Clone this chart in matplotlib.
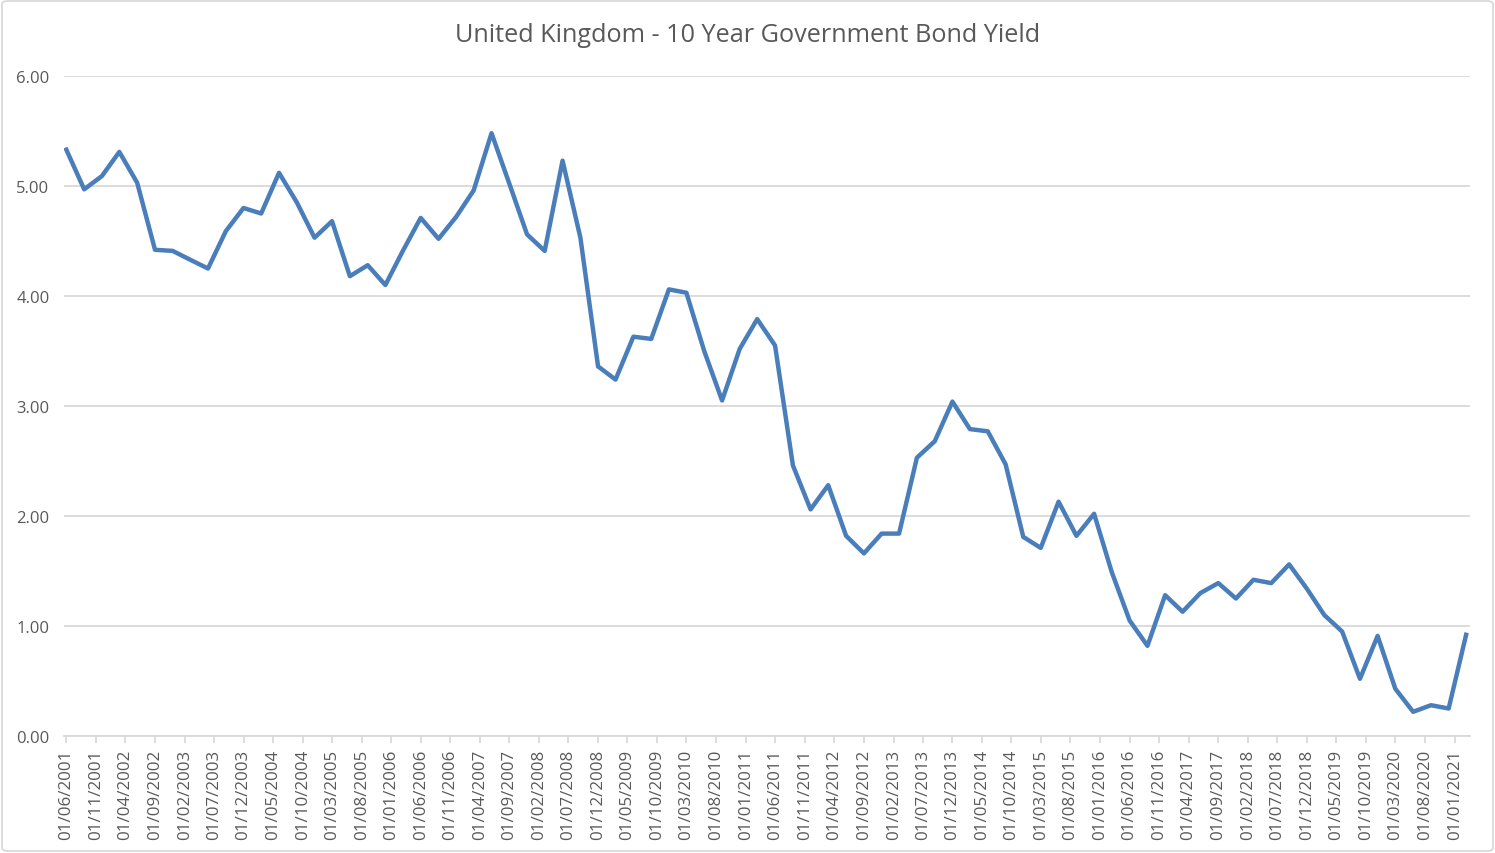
import matplotlib
matplotlib.use("Agg")
import matplotlib.pyplot as plt
import matplotlib.dates as mdates
from matplotlib.patches import FancyBboxPatch
import pandas as pd

# Rendimiento trimestral del bono a 10 años (desde 01/06/2001)
start_date = "2001-06-01"
yields = [
    5.33, 4.97, 5.09, 5.31, 5.03, 4.42, 4.41, 4.33, 4.25, 4.59,
    4.80, 4.75, 5.12, 4.85, 4.53, 4.68, 4.18, 4.28, 4.10, 4.41,
    4.71, 4.52, 4.72, 4.96, 5.48, 5.02, 4.56, 4.41, 5.23, 4.53,
    3.36, 3.24, 3.63, 3.61, 4.06, 4.03, 3.50, 3.05, 3.52, 3.79,
    3.55, 2.46, 2.06, 2.28, 1.82, 1.66, 1.84, 1.84, 2.53, 2.68,
    3.04, 2.79, 2.77, 2.47, 1.81, 1.71, 2.13, 1.82, 2.02, 1.49,
    1.05, 0.82, 1.28, 1.13, 1.30, 1.39, 1.25, 1.42, 1.39, 1.56,
    1.34, 1.10, 0.95, 0.52, 0.91, 0.43, 0.22, 0.28, 0.25, 0.92,
]
dates = pd.date_range(start_date, periods=len(yields), freq="3MS")
tick_dates = pd.date_range(start_date, "2021-01-01", freq="5MS")
y_ticks = [0, 1, 2, 3, 4, 5, 6]
title = "United Kingdom - 10 Year Government Bond Yield"

grey_text = "#595959"
grid_color = "#d9d9d9"
line_color = "#4a7ebb"

plt.rcParams["font.family"] = ["Open Sans", "DejaVu Sans"]

fig = plt.figure(figsize=(14.95, 8.54), dpi=100)
ax = fig.add_axes([64 / 1495, 117 / 854, (1470 - 64) / 1495, (737 - 77) / 854])

ax.plot(dates, yields, color=line_color, linewidth=3.2, solid_joinstyle="round", zorder=3)

ax.set_ylim(0, 6)
ax.set_yticks(y_ticks)
ax.set_yticklabels([f"{v:.2f}" for v in y_ticks])
ax.set_xlim(dates[0] - pd.Timedelta(days=12), dates[-1] + pd.Timedelta(days=20))
ax.set_xticks(tick_dates)
ax.xaxis.set_major_formatter(mdates.DateFormatter("%d/%m/%Y"))

ax.grid(axis="y", color=grid_color, linewidth=1.3, zorder=0)
for side in ["top", "right", "left"]:
    ax.spines[side].set_visible(False)
ax.spines["bottom"].set_color(grid_color)
ax.spines["bottom"].set_linewidth(1.3)

ax.tick_params(axis="y", length=0, pad=10.5, labelsize=12, labelcolor=grey_text)
ax.tick_params(axis="x", length=5, width=1.3, color=grid_color, pad=4,
               labelsize=12.2, labelcolor=grey_text, labelrotation=90)

fig.text(0.5, 1 - 35 / 854, title, ha="center", va="center", fontsize=18.2, color=grey_text)

# Borde del área del gráfico
border = FancyBboxPatch((2 / 1495, 2 / 854), 1 - 4 / 1495, 1 - 4 / 854,
                        boxstyle="round,pad=0,rounding_size=0.004",
                        transform=fig.transFigure, facecolor="none",
                        edgecolor=grid_color, linewidth=1.3)
fig.patches.append(border)

fig.savefig("out.png", dpi=100)
plt.close(fig)
